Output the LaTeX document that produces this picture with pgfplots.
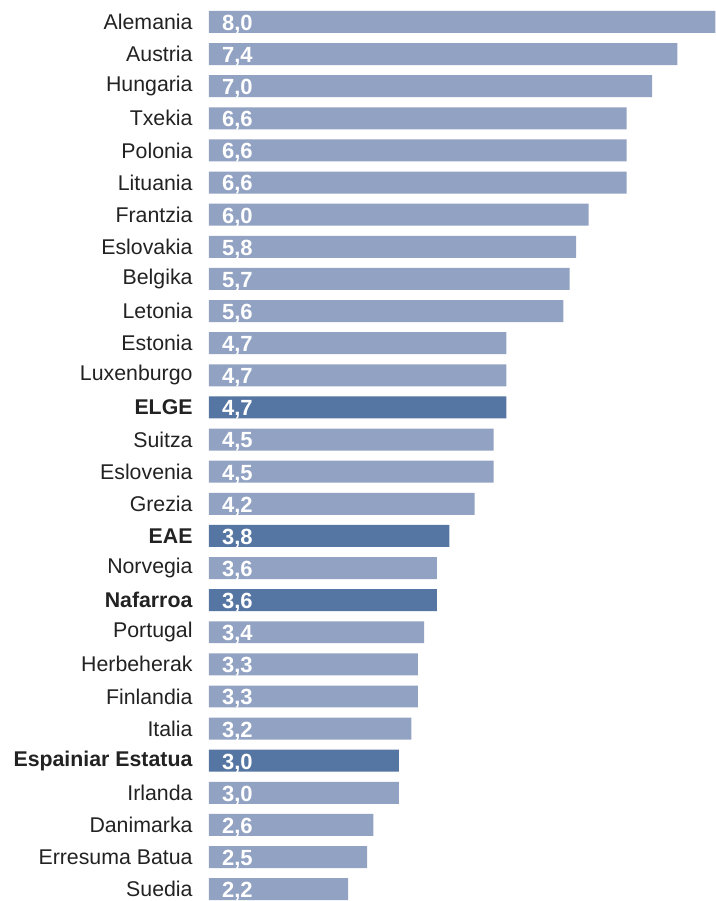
\documentclass[border=0pt]{standalone}
\usepackage{pgfplots}
\pgfplotsset{compat=1.18}
\usepackage{pgfplotstable}
\usepackage{fontspec}
\setmainfont{Liberation Sans}
\definecolor{barlight}{RGB}{146,162,195}
\definecolor{bardark}{RGB}{85,117,162}
\definecolor{labgray}{RGB}{34,34,34}

\pgfplotstableread{
idx val lab
0 8.0 8,0
1 7.4 7,4
2 7.0 7,0
3 6.6 6,6
4 6.6 6,6
5 6.6 6,6
6 6.0 6,0
7 5.8 5,8
8 5.7 5,7
9 5.6 5,6
10 4.7 4,7
11 4.7 4,7
13 4.5 4,5
14 4.5 4,5
15 4.2 4,2
17 3.6 3,6
19 3.4 3,4
20 3.3 3,3
21 3.3 3,3
22 3.2 3,2
24 3.0 3,0
25 2.6 2,6
26 2.5 2,5
27 2.2 2,2
}\lighttab

\pgfplotstableread{
idx val lab
12 4.7 4,7
16 3.8 3,8
18 3.6 3,6
23 3.0 3,0
}\darktab

\begin{document}
\begin{tikzpicture}
\begin{axis}[
  scale only axis,
  width=380.25pt, height=675.75pt,
  xmin=0, xmax=8,
  y dir=reverse,
  ymin=-0.684, ymax=27.342,
  axis line style={draw=none},
  major tick length=0pt,
  xtick=\empty,
  ytick={0,...,27},
  yticklabels={Alemania,Austria,Hungaria,Txekia,Polonia,Lituania,Frantzia,Eslovakia,Belgika,Letonia,Estonia,Luxenburgo,\textbf{ELGE},Suitza,Eslovenia,Grezia,\textbf{EAE},Norvegia,\textbf{Nafarroa},Portugal,Herbeherak,Finlandia,Italia,\textbf{Espainiar Estatua},Irlanda,Danimarka,Erresuma Batua,Suedia},
  yticklabel style={font=\fontsize{16}{19}\selectfont, text=labgray, inner sep=0pt, anchor=east, xshift=-12pt},
  clip=false,
]
\addplot[xbar, bar width=16.5pt, bar shift=0pt, fill=barlight, draw=none] table[x=val, y=idx] {\lighttab};
\addplot[xbar, bar width=16.5pt, bar shift=0pt, fill=bardark, draw=none] table[x=val, y=idx] {\darktab};
\addplot[draw=none, mark=none, nodes near coords, point meta=explicit symbolic,
  every node near coord/.append style={anchor=base west, inner sep=0pt, xshift=9.75pt, yshift=-6.3pt, text=white, font=\fontsize{16.5}{19}\selectfont\bfseries}]
  table[x expr=0, y=idx, meta=lab] {\lighttab};
\addplot[draw=none, mark=none, nodes near coords, point meta=explicit symbolic,
  every node near coord/.append style={anchor=base west, inner sep=0pt, xshift=9.75pt, yshift=-6.3pt, text=white, font=\fontsize{16.5}{19}\selectfont\bfseries}]
  table[x expr=0, y=idx, meta=lab] {\darktab};
\end{axis}
\path ([xshift=-156.75pt]current axis.south west) rectangle (current axis.north east);
\end{tikzpicture}
\end{document}
